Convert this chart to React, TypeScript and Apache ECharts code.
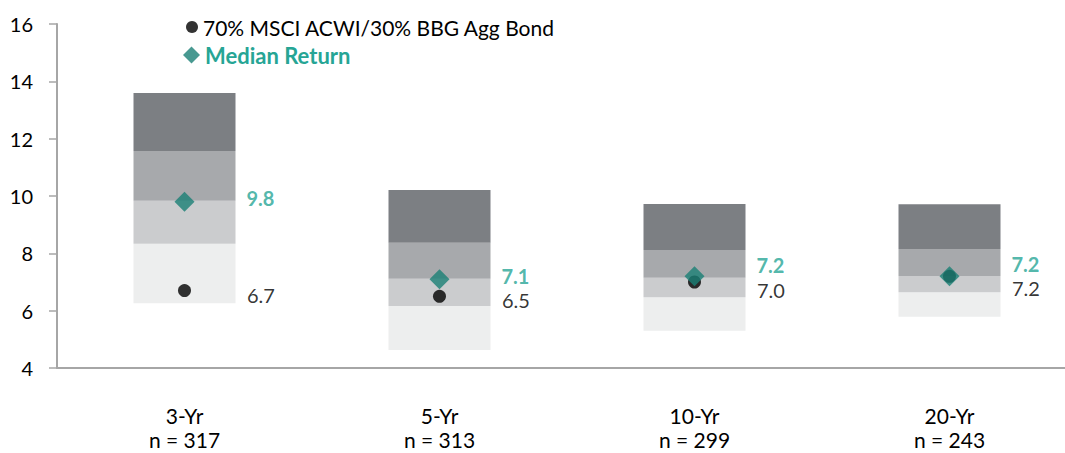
import React, { useEffect, useRef } from "react";
import * as echarts from "echarts";

const periods = ["3-Yr", "5-Yr", "10-Yr", "20-Yr"];
const counts = [317, 313, 299, 243];
const p5 = [6.26, 4.63, 5.3, 5.79];
const p25 = [8.33, 6.16, 6.47, 6.64];
const p50 = [9.83, 7.11, 7.15, 7.21];
const p75 = [11.57, 8.37, 8.12, 8.15];
const p95 = [13.59, 10.21, 9.72, 9.71];
const medianReturn = [9.8, 7.1, 7.2, 7.2];
const portfolioReturn = [6.7, 6.5, 7.0, 7.2];
const yTicks = [4, 6, 8, 10, 12, 14, 16];

const FONT = "Lato, 'Open Sans', sans-serif";
const TEAL_MARK = "#1A8075";
const TEAL_TEXT = "#26A595";
const BAND_COLORS = ["#EDEEEE", "#CBCCCE", "#A7A9AC", "#7C7F83"];

export default function App() {
  const ref = useRef<HTMLDivElement>(null);
  useEffect(() => {
    if (!ref.current) return;
    const chart = echarts.init(ref.current, null, { renderer: "svg" });
    const diff = (a: number[], b: number[]) => a.map((v, i) => +(v - b[i]).toFixed(3));
    const bands = [diff(p25, p5), diff(p50, p25), diff(p75, p50), diff(p95, p75)];
    const tealNudge = [-4, -3.5, -11.5, -12.5];
    const blackNudge = [4, 4, 7.5, 12];
    const legendPortfolio = "70% MSCI ACWI/30% BBG Agg Bond";
    const legendMedian = "Median Return";

    const barSeries: any[] = [
      {
        type: "bar",
        stack: "box",
        data: p5,
        barWidth: "40%",
        itemStyle: { color: "transparent" },
        silent: true,
      },
      ...bands.map((d, i) => ({
        type: "bar",
        stack: "box",
        data: d,
        barWidth: "40%",
        itemStyle: { color: BAND_COLORS[i] },
        silent: true,
      })),
    ];

    chart.setOption({
      animation: false,
      textStyle: { fontFamily: FONT },
      grid: { left: 57, right: -12, top: 24, bottom: 85, containLabel: false, outerBoundsMode: "none" },
      legend: [
        {
          left: 186,
          top: 16,
          padding: 0,
          itemWidth: 12,
          itemHeight: 12,
          selectedMode: false,
          textStyle: { fontFamily: FONT, fontSize: 21, lineHeight: 22, color: "#000" },
          data: [{ name: legendPortfolio, icon: "circle", itemStyle: { color: "#000" } }],
        },
        {
          left: 183,
          top: 44,
          padding: 0,
          itemWidth: 17,
          itemHeight: 17,
          selectedMode: false,
          textStyle: { fontFamily: FONT, fontSize: 22, lineHeight: 22, color: TEAL_TEXT, fontWeight: "bold" },
          data: [{ name: legendMedian, icon: "diamond", itemStyle: { color: TEAL_MARK } }],
        },
      ],
      xAxis: [
        {
          type: "category",
          data: periods,
          axisLine: { lineStyle: { color: "#A6A6A6", width: 2 } },
          axisTick: { show: false },
          axisLabel: { color: "#000", fontSize: 21, lineHeight: 21, margin: 37, fontFamily: FONT },
        },
        {
          type: "category",
          position: "bottom",
          data: counts.map((n) => `n = ${n}`),
          axisLine: { show: false },
          axisTick: { show: false },
          axisLabel: { color: "#000", fontSize: 21, lineHeight: 21, margin: 61, fontFamily: FONT },
        },
      ],
      yAxis: {
        type: "value",
        min: yTicks[0],
        max: yTicks[yTicks.length - 1],
        interval: 2,
        splitLine: { show: false },
        axisLine: { show: true, lineStyle: { color: "#A6A6A6", width: 2 } },
        axisTick: { show: true, length: 8, lineStyle: { color: "#A6A6A6", width: 1.5 } },
        axisLabel: { color: "#000", fontSize: 20, margin: 24, fontFamily: FONT },
      },
      series: [
        ...barSeries,
        {
          type: "scatter",
          name: legendPortfolio,
          symbol: "circle",
          symbolSize: 13,
          z: 5,
          itemStyle: { color: "#000" },
          data: portfolioReturn.map((v, i) => ({
            value: v,
            label: { offset: [0, blackNudge[i]] },
          })),
          label: {
            show: true,
            position: "right",
            distance: 56,
            color: "#000",
            fontSize: 20,
            lineHeight: 20,
            fontFamily: FONT,
            formatter: (p: any) => Number(p.value).toFixed(1),
          },
        },
        {
          type: "scatter",
          name: legendMedian,
          symbol: "diamond",
          symbolSize: 20,
          z: 6,
          itemStyle: { color: TEAL_MARK },
          data: medianReturn.map((v, i) => ({
            value: v,
            label: { offset: [0, tealNudge[i]] },
          })),
          label: {
            show: true,
            position: "right",
            distance: 52,
            color: TEAL_TEXT,
            fontWeight: "bold",
            fontSize: 20,
            lineHeight: 20,
            fontFamily: FONT,
            formatter: (p: any) => Number(p.value).toFixed(1),
          },
        },
      ],
    });
    return () => chart.dispose();
  }, []);
  return (
    <div
      ref={ref}
      style={{ position: "fixed", left: 0, top: 0, width: 1065, height: 453, background: "#fff" }}
    />
  );
}
